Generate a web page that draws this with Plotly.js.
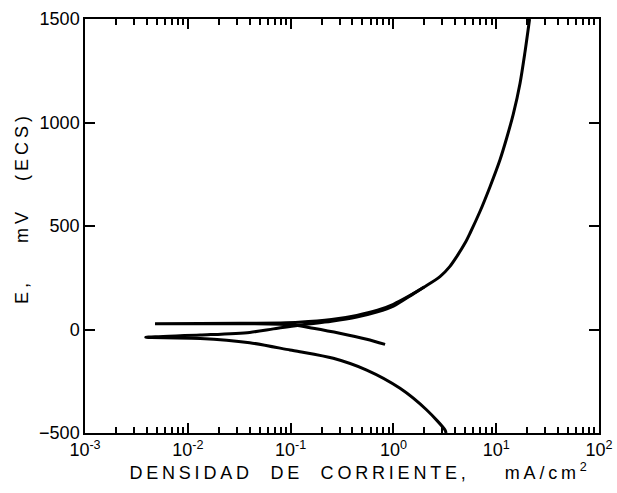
<!DOCTYPE html>
<html>
<head>
<meta charset="utf-8">
<script src="https://cdn.plot.ly/plotly-3.0.1.min.js"></script>
<style>
html,body{margin:0;padding:0;background:#fff;}
#chart{width:617px;height:493px;}
.modebar-container{display:none !important;}
</style>
</head>
<body>
<div id="chart"></div>
<script>
// Curve A (Ecorr ~ +28 mV): cathodic branch (from its end back to Ecorr) then anodic branch
const curveA_cath_i = [0.83, 0.55, 0.30, 0.166, 0.106, 0.04, 0.015, 0.0048];
const curveA_cath_E = [-72, -47, -18, 6, 22, 28, 28, 28];
const curveA_anod_i = [0.0048, 0.0322, 0.08, 0.12, 0.25, 0.44, 0.70, 1.0, 1.4, 1.995, 2.838, 3.548, 4.13, 5.01, 5.56, 6.95, 8.71, 10.89, 12.65, 14.66, 17.06, 19.05, 21.13];
const curveA_anod_E = [28, 30, 32, 35, 48, 68, 93, 122, 160, 205, 255, 305, 352, 420, 465, 570, 690, 820, 925, 1040, 1190, 1340, 1500];

// Curve B (Ecorr ~ -38 mV)
const curveB_cath_i = [3.25, 3.18, 2.11, 1.16, 0.55, 0.26, 0.123, 0.0986, 0.04, 0.0132, 0.0039];
const curveB_cath_E = [-500, -486, -389, -284, -196, -139, -107, -99, -64, -43, -38];
const curveB_anod_i = [0.0039, 0.0132, 0.040, 0.068, 0.12, 0.25, 0.44, 0.70, 1.0, 1.56, 1.995];
const curveB_anod_E = [-38, -27, -14, 3, 21, 40, 60, 85, 113, 172, 205];

const xTickVals = [0.001, 0.01, 0.1, 1, 10, 100];
const xTickText = ['10<sup>-3</sup>', '10<sup>-2</sup>', '10<sup>-1</sup>', '10<sup>0</sup>', '10<sup>1</sup>', '10<sup>2</sup>'];
const yTickVals = [-500, 0, 500, 1000, 1500];

const lineStyle = {color: '#000', width: 3, shape: 'spline', smoothing: 0.8};
const fam = 'Liberation Sans, Arial, sans-serif';

const traces = [
  {x: curveA_cath_i.concat(curveA_anod_i.slice(1)), y: curveA_cath_E.concat(curveA_anod_E.slice(1)), mode: 'lines', line: lineStyle},
  {x: curveB_cath_i.concat(curveB_anod_i.slice(1)), y: curveB_cath_E.concat(curveB_anod_E.slice(1)), mode: 'lines', line: lineStyle}
];

const layout = {
  width: 617, height: 493,
  margin: {l: 85, r: 18, t: 19, b: 60},
  showlegend: false,
  xaxis: {
    type: 'log', range: [-3, 2],
    tickmode: 'array', tickvals: xTickVals, ticktext: xTickText,
    ticks: 'inside', ticklen: 10, tickwidth: 2, tickcolor: '#000',
    minor: {ticks: 'inside', ticklen: 6, tickwidth: 2, tickcolor: '#000', dtick: 'D1'},
    showline: true, linecolor: '#000', linewidth: 1.5, mirror: 'allticks', showgrid: false, zeroline: false,
    tickfont: {family: fam, size: 18, color: '#000'},
    title: {text: 'DENSIDAD\u00a0\u00a0DE\u00a0\u00a0CORRIENTE,\u00a0\u00a0\u00a0\u00a0mA/cm<sup>2</sup>', standoff: 4,
            font: {family: fam, size: 18, color: '#000'}}
  },
  yaxis: {
    range: [-500, 1500], tickmode: 'array', tickvals: yTickVals,
    ticks: 'inside', ticklen: 10, tickwidth: 2, tickcolor: '#000',
    showline: true, linecolor: '#000', linewidth: 1.5, mirror: 'allticks', showgrid: false, zeroline: false,
    tickfont: {family: fam, size: 18, color: '#000'},
    title: {text: 'E,\u00a0\u00a0\u00a0\u00a0mV\u00a0\u00a0\u00a0(ECS)', standoff: 6,
            font: {family: fam, size: 18, color: '#000'}}
  }
};

Plotly.newPlot('chart', traces, layout).then(function(){
  document.querySelectorAll('.xtitle').forEach(function(el){
    el.style.letterSpacing = '3.8px';
    el.setAttribute('transform', 'translate(18,0)');
  });
  document.querySelectorAll('.ytitle').forEach(function(el){
    el.style.letterSpacing = '4px';
    const t = el.getAttribute('transform') || '';
    el.setAttribute('transform', 'translate(0,-18) ' + t);
  });
});
</script>
</body>
</html>
